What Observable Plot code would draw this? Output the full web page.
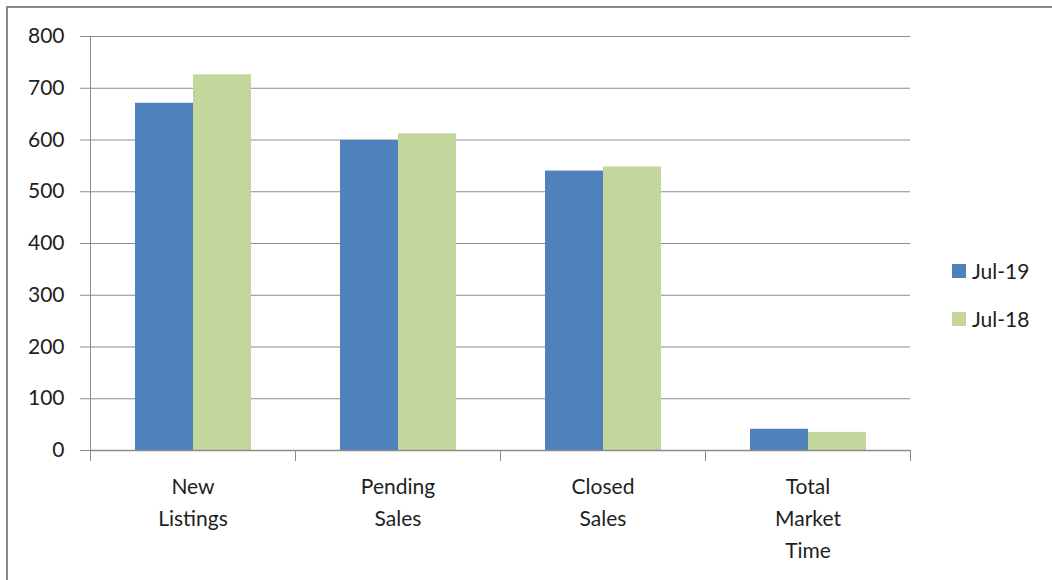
<!DOCTYPE html>
<html>
<head>
<meta charset="utf-8">
<script src="https://cdn.jsdelivr.net/npm/d3@7"></script>
<script src="https://cdn.jsdelivr.net/npm/@observablehq/plot@0.6"></script>
<style>
  html, body { margin: 0; padding: 0; background: #fff; overflow: hidden; }
  #wrap { position: relative; width: 1052px; height: 580px; overflow: hidden; font-family: Lato, "Open Sans", sans-serif; }
  #border { position: absolute; left: 6px; top: 6px; width: 1200px; height: 800px; border: 2px solid #8a8a8a; box-sizing: border-box; pointer-events: none; }
  #chart { position: absolute; left: 0; top: 0; }
  .legend { position: absolute; left: 952px; font-size: 21px; color: #1e1e1e; display: flex; align-items: center; }
  .legend .sw { width: 14px; height: 14px; margin-right: 6px; }
</style>
</head>
<body>
<div id="wrap">
  <div id="chart"></div>
  <div id="border"></div>
  <div id="legend"></div>
</div>
<script>
const categories = ["New Listings", "Pending Sales", "Closed Sales", "Total Market Time"];
const categoryLabels = ["New\nListings", "Pending\nSales", "Closed\nSales", "Total\nMarket\nTime"];
const seriesNames = ["Jul-19", "Jul-18"];
const jul19 = [671, 599, 540, 41];
const jul18 = [726, 612, 548, 35];
const yTicks = [0, 100, 200, 300, 400, 500, 600, 700, 800];
const colors = ["#4F81BD", "#C3D69B"];

const rows = [];
categories.forEach((c, i) => {
  rows.push({category: c, series: seriesNames[0], value: jul19[i]});
  rows.push({category: c, series: seriesNames[1], value: jul18[i]});
});
const labelOf = new Map(categories.map((c, i) => [c, categoryLabels[i]]));

const gray = "#8c8c8c";
const chart = Plot.plot({
  width: 1052,
  height: 580,
  marginLeft: 90,
  marginRight: 142,
  marginTop: 36,
  marginBottom: 130,
  style: {fontFamily: "Lato, 'Open Sans', sans-serif", fontSize: "21px", color: "#1e1e1e", background: "transparent"},
  fx: {domain: categories, padding: 0, label: null},
  x: {domain: seriesNames, paddingInner: 0, paddingOuter: 0.75, axis: null},
  y: {domain: [0, 800], label: null},
  color: {domain: seriesNames, range: colors},
  marks: [
    Plot.gridY(yTicks, {stroke: gray, strokeOpacity: 1, strokeWidth: 1}),
    Plot.barY(rows, {fx: "category", x: "series", y: "value", fill: "series"}),
    Plot.ruleY([0], {stroke: gray, strokeWidth: 1.5}),
    Plot.frame({anchor: "left", facetAnchor: "left", stroke: gray}),
    Plot.frame({anchor: "left", stroke: gray, insetTop: 414, insetBottom: -10}),
    Plot.frame({anchor: "right", stroke: gray, insetTop: 414, insetBottom: -10}),
    Plot.axisY(yTicks, {anchor: "left", tickSize: 10, tickPadding: 16, stroke: gray, fill: "#1e1e1e", label: null, fontSize: 21}),
    Plot.axisFx({anchor: "bottom", tickSize: 0, tickPadding: 21, label: null, lineHeight: 1.52, fontSize: 21, fill: "#1e1e1e", tickFormat: d => labelOf.get(d)})
  ]
});
document.getElementById("chart").appendChild(chart);

const legend = document.getElementById("legend");
seriesNames.forEach((s, i) => {
  const item = document.createElement("div");
  item.className = "legend";
  item.style.top = (258 + i * 48) + "px";
  const sw = document.createElement("div");
  sw.className = "sw";
  sw.style.background = colors[i];
  item.appendChild(sw);
  const t = document.createElement("span");
  t.textContent = s;
  item.appendChild(t);
  legend.appendChild(item);
});
</script>
</body>
</html>
